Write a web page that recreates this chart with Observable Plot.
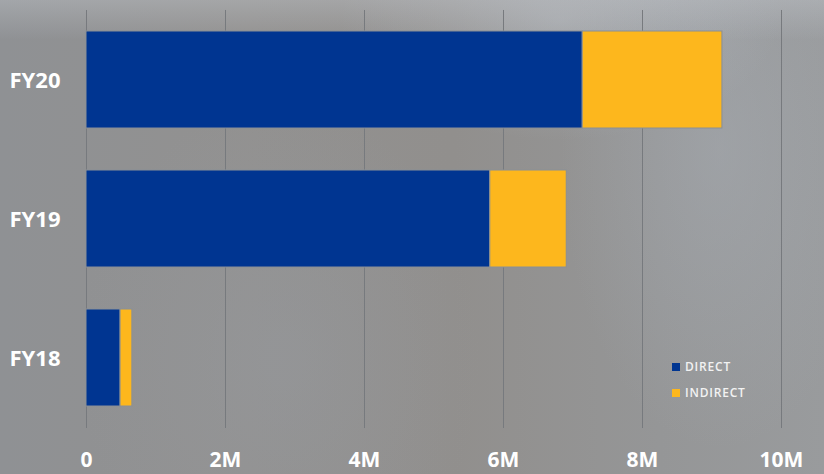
<!DOCTYPE html>
<html>
<head>
<meta charset="utf-8">
<script src="https://cdn.jsdelivr.net/npm/d3@7"></script>
<script src="https://cdn.jsdelivr.net/npm/@observablehq/plot@0.6"></script>
<style>
  html, body { margin: 0; padding: 0; }
  body {
    width: 824px; height: 474px; overflow: hidden; position: relative;
    font-family: "Open Sans", sans-serif;
    background:
      linear-gradient(180deg, rgba(200,204,210,0.35) 0px, rgba(200,204,210,0) 40px),
      radial-gradient(ellipse 220px 120px at 560px 20px, rgba(190,196,204,0.45), rgba(190,196,204,0) 100%),
      radial-gradient(ellipse 160px 300px at 720px 150px, rgba(170,176,184,0.4), rgba(170,176,184,0) 100%),
      radial-gradient(ellipse 200px 260px at 280px 360px, rgba(150,154,160,0.45), rgba(150,154,160,0) 100%),
      linear-gradient(90deg, #8f9194 0%, #929190 30%, #918f8d 55%, #959697 80%, #999b9d 100%);
  }
  #chart { position: absolute; left: 0; top: 0; }
  #legend {
    position: absolute; left: 672px; top: 354px;
    font-size: 12px; font-weight: 600; color: #f2f2f2; letter-spacing: 0.8px;
  }
  #legend .row { display: flex; align-items: center; height: 26px; line-height: 16px; }
  #legend .sw { width: 8px; height: 8px; margin-right: 5px; }
</style>
</head>
<body>
<div id="chart"></div>
<div id="legend"></div>
<script>
const years = ["FY20", "FY19", "FY18"];
const series = ["DIRECT", "INDIRECT"];
const directValues = [7.14e6, 5.81e6, 0.49e6];
const indirectValues = [2.01e6, 1.10e6, 0.17e6];
const seriesColors = ["#003591", "#fdb71d"];
const xTicks = [0, 2e6, 4e6, 6e6, 8e6, 10e6];

const rows = [];
years.forEach((y, i) => {
  rows.push({year: y, series: series[0], value: directValues[i]});
  rows.push({year: y, series: series[1], value: indirectValues[i]});
});

const chart = Plot.plot({
  width: 824,
  height: 474,
  marginLeft: 86,
  marginRight: 43,
  marginTop: 10,
  marginBottom: 46,
  style: {background: "transparent", fontFamily: "Open Sans, sans-serif", color: "#ffffff"},
  x: {domain: [0, 10e6], ticks: xTicks, label: null},
  y: {domain: years, paddingInner: 0.3, paddingOuter: 0.15, label: null},
  color: {domain: series, range: seriesColors},
  marks: [
    Plot.ruleX(xTicks, {stroke: "#777a7e", strokeWidth: 1, strokeOpacity: 1}),
    Plot.barX(rows, Plot.stackX({
      x: "value", y: "year", fill: "series", order: series,
      stroke: "#8a8f96", strokeWidth: 1
    })),
    Plot.axisX(xTicks, {
      anchor: "bottom", tickSize: 0, tickPadding: 24,
      tickFormat: d => d === 0 ? "0" : (d / 1e6) + "M",
      fontSize: 21, fontWeight: 700, fill: "#ffffff", label: null
    }),
    Plot.axisY({
      anchor: "left", tickSize: 0, tickPadding: 26,
      fontSize: 22, fontWeight: 700, fill: "#ffffff", label: null, dy: 1
    })
  ]
});
document.getElementById("chart").appendChild(chart);

const legend = document.getElementById("legend");
series.forEach((s, i) => {
  const row = document.createElement("div");
  row.className = "row";
  const sw = document.createElement("span");
  sw.className = "sw";
  sw.style.background = seriesColors[i];
  const t = document.createElement("span");
  t.textContent = s;
  row.appendChild(sw);
  row.appendChild(t);
  legend.appendChild(row);
});
</script>
</body>
</html>
